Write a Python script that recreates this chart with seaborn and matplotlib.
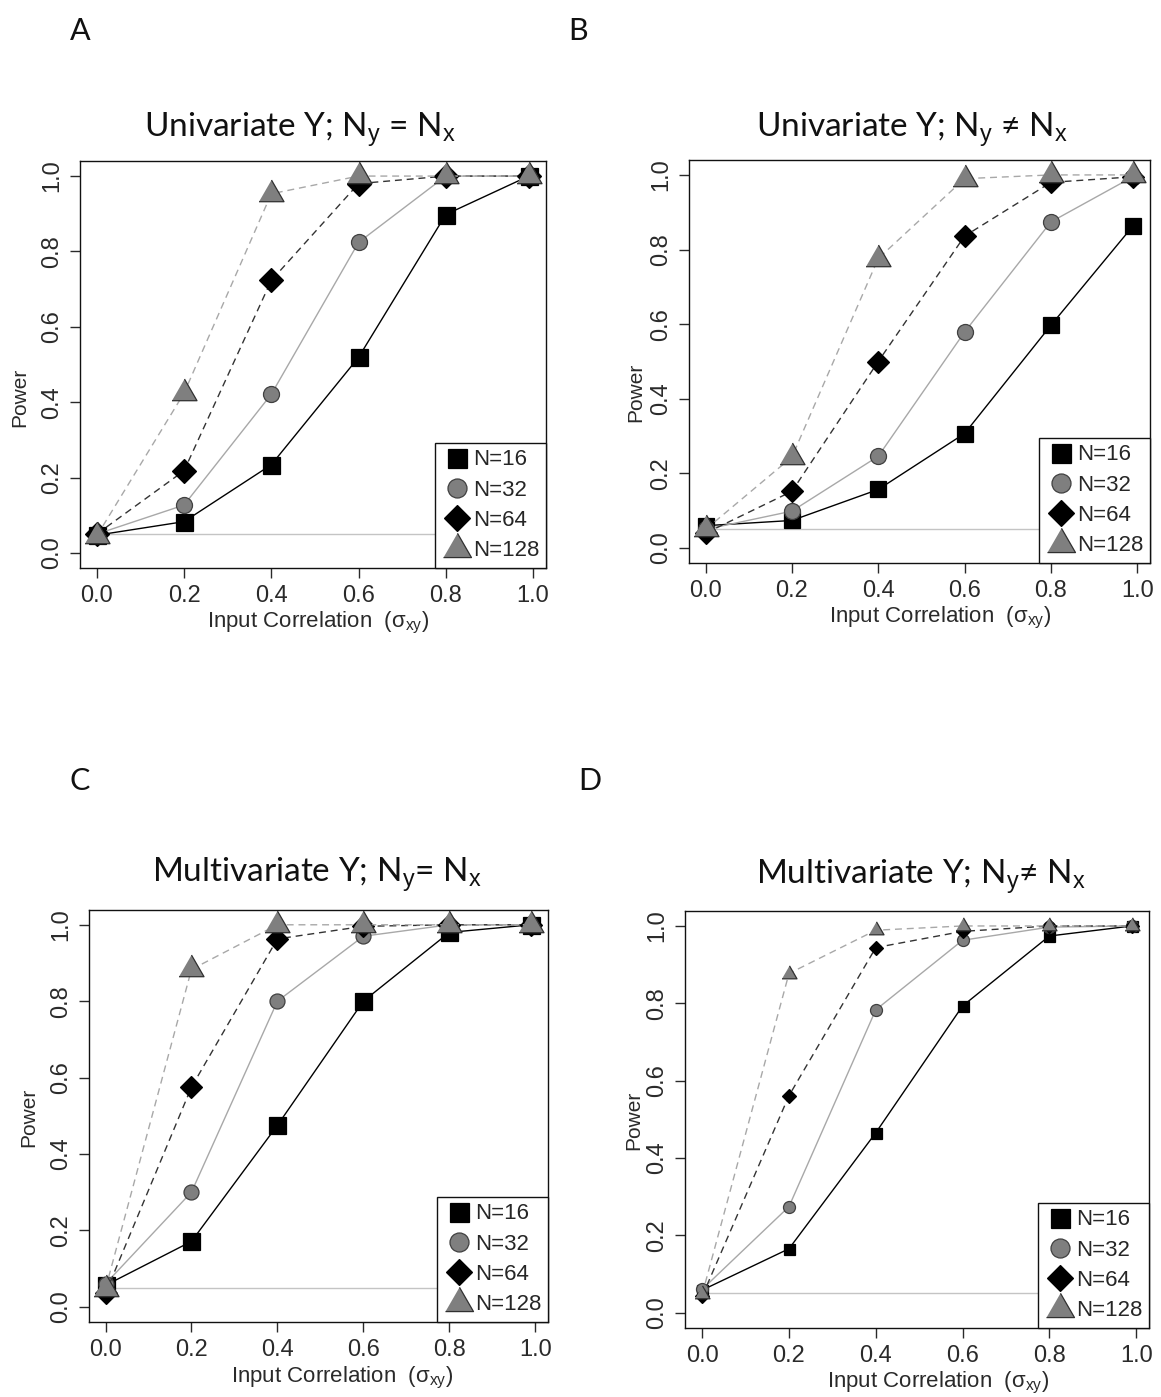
import matplotlib
matplotlib.use("Agg")
import matplotlib.pyplot as plt
from matplotlib.lines import Line2D
import seaborn as sns

# ---- data -------------------------------------------------------------
corr = [0.0, 0.2, 0.4, 0.6, 0.8, 0.99]
sample_sizes = ["N=16", "N=32", "N=64", "N=128"]
alpha_level = 0.05

# power per sample size (rows: N=16, 32, 64, 128)
uni_equal = [
    [0.047, 0.083, 0.234, 0.519, 0.898, 1.0],
    [0.050, 0.127, 0.421, 0.824, 1.0, 1.0],
    [0.050, 0.218, 0.723, 0.980, 1.0, 1.0],
    [0.045, 0.424, 0.953, 1.0, 1.0, 1.0],
]
uni_unequal = [
    [0.060, 0.074, 0.157, 0.307, 0.597, 0.863],
    [0.050, 0.099, 0.246, 0.579, 0.874, 0.995],
    [0.040, 0.152, 0.500, 0.836, 0.980, 0.995],
    [0.050, 0.244, 0.776, 0.990, 1.0, 1.0],
]
multi_equal = [
    [0.056, 0.171, 0.475, 0.800, 0.980, 1.0],
    [0.060, 0.300, 0.800, 0.970, 1.0, 1.0],
    [0.035, 0.575, 0.963, 0.996, 1.0, 1.0],
    [0.047, 0.883, 1.0, 1.0, 1.0, 1.0],
]
multi_unequal = [
    [0.058, 0.165, 0.465, 0.793, 0.974, 1.0],
    [0.060, 0.274, 0.783, 0.963, 0.997, 1.0],
    [0.042, 0.561, 0.944, 0.986, 1.0, 1.0],
    [0.047, 0.877, 0.989, 1.0, 1.0, 1.0],
]

panel_letters = ["A", "B", "C", "D"]
panel_titles = [
    r"Univariate Y; N$_\mathrm{y}$ = N$_\mathrm{x}$",
    r"Univariate Y; N$_\mathrm{y}$ ≠ N$_\mathrm{x}$",
    r"Multivariate Y; N$_\mathrm{y}$= N$_\mathrm{x}$",
    r"Multivariate Y; N$_\mathrm{y}$≠ N$_\mathrm{x}$",
]
panel_data = [uni_equal, uni_unequal, multi_equal, multi_unequal]

# ---- style ------------------------------------------------------------
sns.set_style("ticks")
plt.rcParams["font.family"] = ["Liberation Sans", "DejaVu Sans"]
plt.rcParams["mathtext.fontset"] = "custom"
plt.rcParams["mathtext.rm"] = "Liberation Sans"
plt.rcParams["axes.linewidth"] = 1.0

TITLE_FONT = ["Lato", "DejaVu Sans"]
W, H = 1161, 1397

# equilateral triangle like R's pch 24
tri = [(-1, -0.577), (1, -0.577), (0, 1.155)]

series_styles = [
    dict(color="black", linestyle="-", marker="s", mfc="black", mec="black"),
    dict(color="#a8a8a8", linestyle="-", marker="o", mfc="#7f7f7f", mec="#404040"),
    dict(color="#333333", linestyle=(0, (5, 3.5)), marker="D", mfc="black", mec="black"),
    dict(color="#a8a8a8", linestyle=(0, (5, 3.5)), marker=tri, mfc="#7f7f7f", mec="#303030"),
]

# marker sizes in pixels per panel: square side, circle diam, diamond diag, triangle width
marker_px = [
    [17, 16, 23, 25],
    [16, 16, 21, 25],
    [17, 15, 21, 25],
    [11, 12, 14, 15],
]
legend_px = [19, 19, 26, 28]


def px_to_size(kind, px):
    pt = px * 72 / 100
    if kind == 2:
        return pt / 1.414
    if kind == 3:
        return pt / 0.866
    return pt


# axes boxes in pixels: left, top, right, bottom
boxes = [
    (79.5, 161, 546, 568),
    (688.5, 160, 1150, 563),
    (88.5, 909.5, 548, 1322),
    (685, 910.5, 1149, 1328),
]
title_pos = [(300, 130), (912, 130), (317, 875), (921, 877)]
letter_pos = [(80, 31), (578, 31), (80, 781), (590, 781)]
xlabel_pos = [(318, 623), (940, 618), (342, 1378), (938, 1383)]
ylabel_pos = [(20, 397), (636, 392), (29, 1117), (634, 1120)]

fig = plt.figure(figsize=(W / 100, H / 100), dpi=100)

for i, data in enumerate(panel_data):
    l, t, r, b = boxes[i]
    ax = fig.add_axes([l / W, 1 - b / H, (r - l) / W, (b - t) / H])

    # nominal alpha reference line
    ax.hlines(alpha_level, corr[0], corr[-1], color="#c4c4c4", lw=1.0, zorder=1)

    for k, vals in enumerate(data):
        st = series_styles[k]
        sns.lineplot(
            x=corr, y=vals, ax=ax, color=st["color"], linestyle=st["linestyle"],
            lw=1.0, marker=st["marker"], markersize=px_to_size(k, marker_px[i][k]),
            markerfacecolor=st["mfc"], markeredgecolor=st["mec"], markeredgewidth=0.9,
            errorbar=None, legend=False, zorder=2 + k,
        )

    ax.set_xlim(-0.0396, 1.0296)
    ax.set_ylim(-0.04, 1.04)
    ax.set_xticks([0.0, 0.2, 0.4, 0.6, 0.8, 1.0])
    ax.set_yticks([0.0, 0.2, 0.4, 0.6, 0.8, 1.0])
    ax.set_xticklabels([f"{v:.1f}" for v in ax.get_xticks()])
    ax.set_yticklabels([f"{v:.1f}" for v in ax.get_yticks()], rotation=90, va="center")
    ax.tick_params(direction="out", length=7, width=1.0, labelsize=17, pad=5,
                   colors="#2a2a2a")
    for sp in ax.spines.values():
        sp.set_visible(True)
        sp.set_color("#111111")

    ax.set_xlabel(r"Input Correlation  (σ$_\mathrm{xy}$)", fontsize=16, color="#2a2a2a")
    ax.set_ylabel("Power", fontsize=15, color="#2a2a2a")
    ax.xaxis.set_label_coords(xlabel_pos[i][0] / W, 1 - xlabel_pos[i][1] / H,
                              transform=fig.transFigure)
    ax.yaxis.set_label_coords(ylabel_pos[i][0] / W, 1 - ylabel_pos[i][1] / H,
                              transform=fig.transFigure)
    ax.xaxis.label.set_va("center")
    ax.yaxis.label.set_va("center")

    handles = [
        Line2D([], [], linestyle="none", marker=series_styles[k]["marker"],
               markersize=px_to_size(k, legend_px[k]),
               markerfacecolor=series_styles[k]["mfc"],
               markeredgecolor=series_styles[k]["mec"], markeredgewidth=0.9)
        for k in range(4)
    ]
    leg = ax.legend(handles, sample_sizes, loc="lower right", fontsize=16,
                    frameon=True, fancybox=False, borderaxespad=0, borderpad=0.3,
                    handlelength=1.35, handletextpad=0.05, labelspacing=0.42)
    leg.get_frame().set_edgecolor("#111111")
    leg.get_frame().set_linewidth(1.0)
    leg.get_frame().set_alpha(1.0)

    fig.text(title_pos[i][0] / W, 1 - title_pos[i][1] / H, panel_titles[i],
             ha="center", va="center", fontsize=24, family=TITLE_FONT, color="#111111")
    fig.text(letter_pos[i][0] / W, 1 - letter_pos[i][1] / H, panel_letters[i],
             ha="center", va="center", fontsize=22, family=TITLE_FONT, color="#111111")

fig.savefig("out.png", dpi=100)
